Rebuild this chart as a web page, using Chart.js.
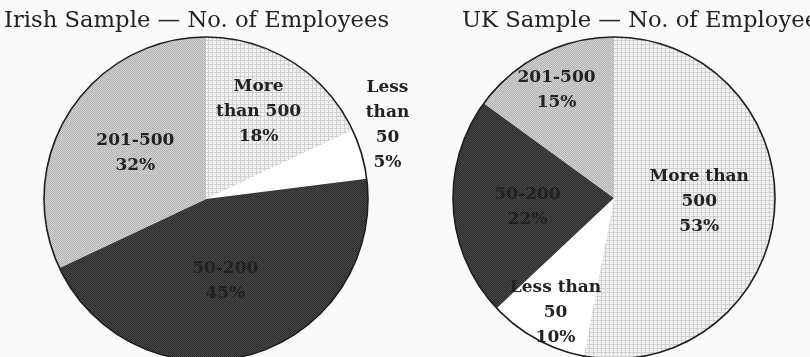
<!DOCTYPE html>
<html>
<head>
<meta charset="utf-8">
<script src="https://cdn.jsdelivr.net/npm/chart.js@4"></script>
<style>
  html, body { margin: 0; padding: 0; background: #fafafa; overflow: hidden; }
  body { width: 810px; height: 357px; position: relative; }
  .title { position: absolute; top: 8px; font-family: 'DejaVu Serif', serif; font-size: 22.7px; line-height: 22px; color: #222; white-space: nowrap; z-index: 2; }
  .box { position: absolute; top: 0; height: 400px; }
</style>
</head>
<body>
<div class="title" id="irishTitle" style="left:4px;">Irish Sample — No. of Employees</div>
<div class="title" id="ukTitle" style="left:462px;">UK Sample — No. of Employees</div>
<div class="box" style="left:0; width:440px;"><canvas id="irishChart" width="440" height="400"></canvas></div>
<div class="box" style="left:405px; width:405px;"><canvas id="ukChart" width="405" height="400"></canvas></div>
<script>
// Categories, clockwise from 12 o'clock
const categories = ['More than 500', 'Less than 50', '50-200', '201-500'];

// Irish sample (% of firms)
const irishValues = [18, 5, 45, 32];
const irishLabelLines = [['More', 'than 500'], ['Less', 'than', '50'], ['50-200'], ['201-500']];

// UK sample (% of firms)
const ukValues = [53, 10, 22, 15];
const ukLabelLines = [['More than', '500'], ['Less than', '50'], ['50-200'], ['201-500']];

// Label placement: [fraction of radius, angle shift in degrees]
const irishLabelPos = [[0.63, -1.4], [1.21, -6], [0.52, 3], [0.52, 0.6]];
const ukLabelPos = [[0.53, -2.7], [0.8, -1.8], [0.54, -2.4], [0.76, -1]];

function makePattern(size, draw) {
    const c = document.createElement('canvas');
    c.width = size; c.height = size;
    draw(c.getContext('2d'));
    return c.getContext('2d').createPattern(c, 'repeat');
}

// Grid texture for "More than 500"
const gridFill = makePattern(4, g => {
    g.fillStyle = '#f2f2f2'; g.fillRect(0, 0, 4, 4);
    g.fillStyle = '#d0d0d0'; g.fillRect(0, 0, 4, 1); g.fillRect(0, 0, 1, 4);
});
// Stipple for "201-500"
const lightDots = makePattern(2, g => {
    g.fillStyle = '#d6d6d6'; g.fillRect(0, 0, 2, 2);
    g.fillStyle = '#afafaf'; g.fillRect(0, 0, 1, 1); g.fillRect(1, 1, 1, 1);
});
// Dark stipple for "50-200"
const darkDots = makePattern(2, g => {
    g.fillStyle = '#484848'; g.fillRect(0, 0, 2, 2);
    g.fillStyle = '#2c2c2c'; g.fillRect(0, 0, 1, 1); g.fillRect(1, 1, 1, 1);
});
const sliceFills = [gridFill, '#ffffff', darkDots, lightDots];

const pieDecor = {
    id: 'pieDecor',
    afterDatasetsDraw(chart, args, opts) {
        const ctx = chart.ctx;
        const arcs = chart.getDatasetMeta(0).data;
        const values = chart.data.datasets[0].data;
        const first = arcs[0];

        // outer rim only
        ctx.save();
        ctx.beginPath();
        ctx.arc(first.x, first.y, first.outerRadius, 0, Math.PI * 2);
        ctx.lineWidth = 1.6;
        ctx.strokeStyle = '#1e1e1e';
        ctx.stroke();

        ctx.font = 'bold 17px "DejaVu Serif", serif';
        ctx.fillStyle = '#222';
        ctx.textAlign = 'center';
        ctx.textBaseline = 'middle';
        arcs.forEach((arc, i) => {
            const pos = opts.labelPos[i];
            const mid = (arc.startAngle + arc.endAngle) / 2 + pos[1] * Math.PI / 180;
            const r = arc.outerRadius * pos[0];
            const cx = arc.x + Math.cos(mid) * r;
            const cy = arc.y + Math.sin(mid) * r;
            const lines = opts.lines[i].concat([values[i] + '%']);
            const lh = 25;
            const top = cy - (lines.length - 1) * lh / 2;
            lines.forEach((t, j) => ctx.fillText(t, cx, top + j * lh));
        });
        ctx.restore();
    }
};

function makePie(id, values, lines, labelPos, padding) {
    return new Chart(document.getElementById(id), {
        type: 'pie',
        data: {
            labels: categories,
            datasets: [{
                data: values,
                backgroundColor: sliceFills,
                borderWidth: 0
            }]
        },
        options: {
            responsive: false,
            animation: false,
            layout: { padding: padding },
            plugins: {
                legend: { display: false },
                tooltip: { enabled: false },
                pieDecor: { lines: lines, labelPos: labelPos }
            }
        },
        plugins: [pieDecor]
    });
}

makePie('irishChart', irishValues, irishLabelLines, irishLabelPos, { left: 44, top: 37, right: 72, bottom: 39 });
makePie('ukChart', ukValues, ukLabelLines, ukLabelPos, { left: 48, top: 37, right: 35, bottom: 41 });
</script>
</body>
</html>
